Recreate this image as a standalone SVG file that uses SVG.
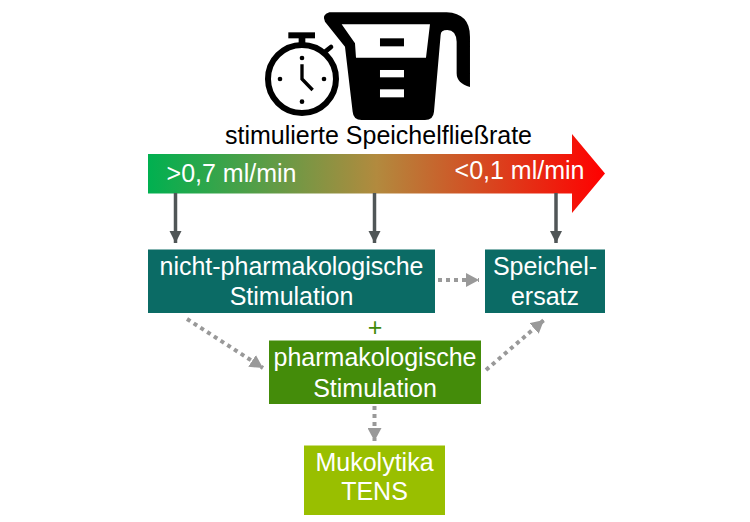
<svg xmlns="http://www.w3.org/2000/svg" width="750" height="522" viewBox="0 0 750 522">
<style>
text{font-family:"Liberation Sans",Arial,sans-serif;font-size:25px;text-anchor:middle;fill:#fff}
.solid{stroke:#505657;stroke-width:3.500;fill:none;marker-end:url(#ah)}
.dot{stroke:#999;stroke-width:4;stroke-dasharray:4 4;fill:none;marker-end:url(#dh)}
</style>
<defs>
<linearGradient id="g" x1="148" x2="605" y1="0" y2="0" gradientUnits="userSpaceOnUse">
<stop offset="0" stop-color="#00b050"/><stop offset="0.5" stop-color="#b28a3e"/><stop offset="1" stop-color="#ff0000"/>
</linearGradient>
<marker id="ah" markerUnits="userSpaceOnUse" markerWidth="13" markerHeight="13" refX="12" refY="6.500" orient="auto"><path d="M0 0.500L12 6.500L0 12.500Z" fill="#505657"/></marker>
<marker id="dh" markerUnits="userSpaceOnUse" markerWidth="14" markerHeight="14" refX="13" refY="7" orient="auto"><path d="M0 0L13 7L0 14Z" fill="#999"/></marker>
</defs>
<g id="icon-stopwatch" transform="translate(250 5) scale(0.3333)">
<circle cx="156" cy="222" r="102" fill="#fff" stroke="#000" stroke-width="18"/>
<rect x="115" y="82" width="80" height="18"/>
<rect x="146" y="98" width="20" height="26"/>
<path d="M222 143L243 126" stroke="#000" stroke-width="14" stroke-linecap="round" fill="none"/>
<circle cx="90" cy="222" r="7"/><circle cx="222" cy="222" r="7"/><circle cx="156" cy="159" r="7"/><circle cx="156" cy="290" r="7"/>
<path d="M156 178V222L188 255" stroke="#000" stroke-width="10" fill="none"/>
</g>
<g id="icon-jug" transform="translate(250 5) scale(0.3333)">
<path d="M238 22H590Q660 25 660 95V246Q620 235 620 205V110Q618 75 592 75Q572 75 572 90L552 320Q550 345 525 345H335Q310 345 308 320L285 125L225 50Q214 30 238 22Z"/>
<path d="M275 58H540L528 158H318L315 115Z" fill="#fff"/>
<rect x="390" y="100" width="72" height="24"/>
<rect x="390" y="195" width="72" height="22" fill="#fff"/>
<rect x="390" y="253" width="72" height="24" fill="#fff"/>
</g>
<g id="title"><text x="378.500" y="144" style="fill:#000">stimulierte Speichelfließrate</text></g>
<g id="scale-arrow">
<path d="M148 154H572V134L605 173.500L572 213V193.500H148Z" fill="url(#g)"/>
<text x="231.500" y="182">&gt;0,7 ml/min</text>
<text x="519.500" y="179">&lt;0,1 ml/min</text>
</g>
<g id="connectors">
<path class="solid" d="M175.500 193V243"/>
<path class="solid" d="M374.500 193V243"/>
<path class="solid" d="M556 193V243"/>
<path class="dot" d="M438 280H479"/>
<path class="dot" d="M187 319L263 368"/>
<path class="dot" d="M486 370L544 320"/>
<path class="dot" d="M374.500 406V441"/>
</g>
<g id="node-nicht">
<rect x="148" y="249.500" width="287" height="63.500" fill="#0b6b65"/>
<text x="291.500" y="275">nicht-pharmakologische</text>
<text x="291.500" y="305">Stimulation</text>
</g>
<g id="node-ersatz">
<rect x="485" y="249.500" width="120" height="63.500" fill="#0b6b65"/>
<text x="545" y="275">Speichel-</text>
<text x="545" y="305">ersatz</text>
</g>
<g id="plus"><text x="375" y="336" style="fill:#3f8a0a">+</text></g>
<g id="node-pharma">
<rect x="269" y="340.500" width="212" height="63.500" fill="#448c0a"/>
<text x="375" y="366">pharmakologische</text>
<text x="375" y="397">Stimulation</text>
</g>
<g id="node-muko">
<rect x="304" y="445.500" width="141" height="69.500" fill="#99bf00"/>
<text x="374.500" y="471">Mukolytika</text>
<text x="374.500" y="500">TENS</text>
</g>
</svg>
